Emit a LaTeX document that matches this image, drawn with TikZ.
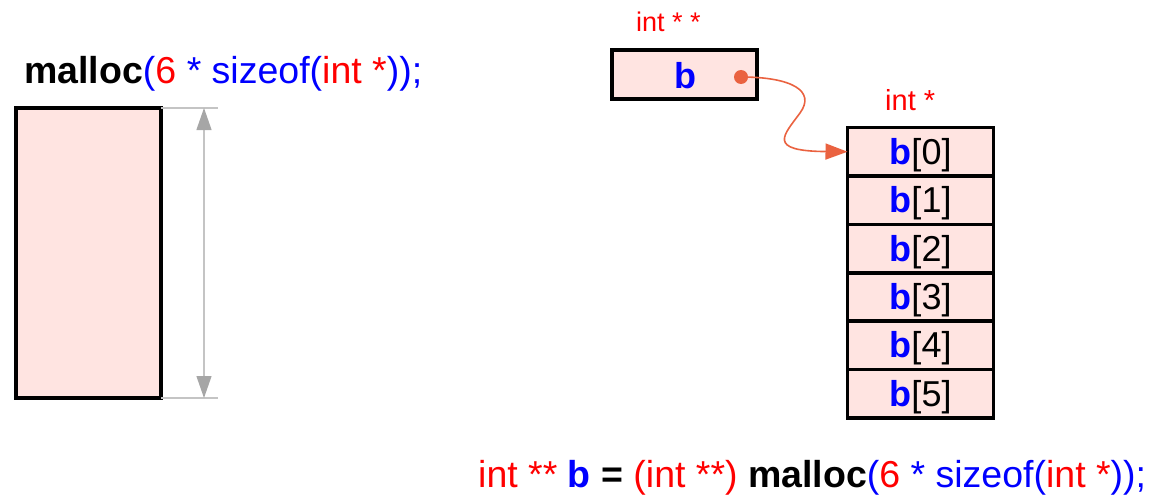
\documentclass[tikz,border=0pt]{standalone}
\usepackage{fontspec}
\setmainfont{Liberation Sans}
\usetikzlibrary{arrows.meta}
\definecolor{cellpink}{RGB}{255,228,225}
\definecolor{ptrred}{RGB}{234,98,64}
\definecolor{dimgray}{RGB}{166,166,166}
\definecolor{dimline}{RGB}{196,196,196}
\begin{document}
\begin{tikzpicture}[x=1pt,y=-1pt,
  memcell/.style={draw=black,line width=3.5pt,fill=cellpink,inner sep=0pt,outer sep=0pt},
  arrcell/.style={memcell,minimum width=146pt,minimum height=48.4pt},
  redtxt/.style={text=red,inner sep=0pt},
  dimln/.style={draw=dimline,line width=1.2pt},
]
\useasboundingbox (0,0) rectangle (1164,495);

% left code
\node[anchor=base west,inner sep=0pt] (lefttxt) at (24,83)
  {\fontsize{37.5}{44}\selectfont\textbf{malloc}\textcolor{blue}{(}\textcolor{red}{6} \textcolor{blue}{* sizeof(}\textcolor{red}{int *}\textcolor{blue}{));}};

% left block
\node[memcell,minimum width=145pt,minimum height=290pt] (leftbox) at (88.5,253) {};

% dimension
\coordinate (dimtopend) at (218,108);
\coordinate (dimbotend) at (218,398);
\coordinate (dimtop) at (204,108);
\coordinate (dimbot) at (204,398);
\draw[dimln] (leftbox.north east) -- (dimtopend);
\draw[dimln] (leftbox.south east) -- (dimbotend);
\draw[dimln,{Triangle[length=22pt,width=15pt,fill=dimgray,color=dimgray]}-{Triangle[length=22pt,width=15pt,fill=dimgray,color=dimgray]}] (dimtop) -- (dimbot);

% pointer b
\node[redtxt,anchor=base west] (typeb) at (636,31.5) {\fontsize{27}{32}\selectfont int * *};
\node[memcell,minimum width=145pt,minimum height=49pt] (bbox) at (684.5,74.5) {};
\node[anchor=base,inner sep=0pt,text=blue] (blabel) at (685,88.5) {\fontsize{36}{42}\selectfont\textbf{b}};
\node[circle,fill=ptrred,inner sep=0pt,minimum size=14pt] (dot) at (741,77) {};

% array
\node[redtxt,anchor=base west] (typearr) at (885,110) {\fontsize{29}{34}\selectfont int *};
\foreach \i in {0,...,5}{
  \node[arrcell] (c\i) at (920.5,{151.75+48.4*\i}) {};
  \node[anchor=base,inner sep=0pt] (l\i) at (920.5,{164.3+48.4*\i})
    {\fontsize{36}{42}\selectfont\textcolor{blue}{\textbf{b}}[\i]};
}

% pointer curve
\coordinate (mid) at (800,113);
\draw[ptrred,line width=1.6pt,-{Triangle[length=22pt,width=16pt]}]
  (dot.center) .. controls (792,77) and (816,91) .. (mid)
  .. controls (784,135) and (766,151) .. (c0.west);

% bottom code
\node[anchor=base west,inner sep=0pt] (bottxt) at (478,487)
  {\fontsize{37.5}{44}\selectfont\textcolor{red}{int **} \textcolor{blue}{\textbf{b}} \textbf{=} \textcolor{red}{(int **)} \textbf{malloc}\textcolor{blue}{(}\textcolor{red}{6} \textcolor{blue}{* sizeof(}\textcolor{red}{int *}\textcolor{blue}{));}};
\end{tikzpicture}
\end{document}
